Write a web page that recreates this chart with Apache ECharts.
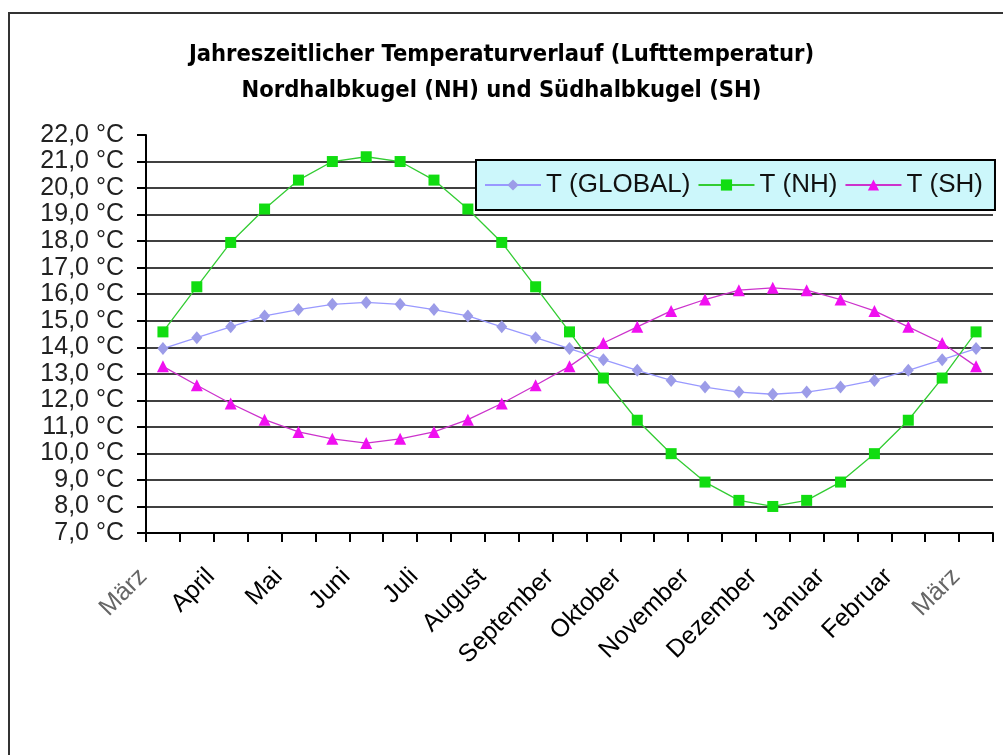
<!DOCTYPE html>
<html>
<head>
<meta charset="utf-8">
<title>Temperaturverlauf</title>
<script src="https://cdn.jsdelivr.net/npm/echarts@6.0.0/dist/echarts.min.js"></script>
<style>
	html, body { margin: 0; padding: 0; background: #fff; }
	#main { width: 1003px; height: 755px; }
</style>
</head>
<body>
<div id="main"></div>
<script>
	// Monatsnamen, nur jede zweite Kategorie beschriftet
	const monthLabels = ['März', 'April', 'Mai', 'Juni', 'Juli', 'August', 'September', 'Oktober', 'November', 'Dezember', 'Januar', 'Februar', 'März'];

	const seriesNames = ['T (GLOBAL)', 'T (NH)', 'T (SH)'];

	const tGlobal = [13.95, 14.36, 14.77, 15.18, 15.42, 15.62, 15.69, 15.62, 15.42, 15.18, 14.77, 14.36, 13.95,
		13.53, 13.13, 12.75, 12.50, 12.31, 12.23, 12.31, 12.50, 12.75, 13.13, 13.53, 13.95];
	const tNH = [14.58, 16.28, 17.95, 19.21, 20.30, 21.00, 21.18, 21.00, 20.30, 19.21, 17.95, 16.28, 14.58,
		12.84, 11.25, 9.99, 8.92, 8.23, 8.00, 8.23, 8.92, 9.99, 11.25, 12.84, 14.58];
	const tSH = [13.28, 12.57, 11.88, 11.27, 10.81, 10.55, 10.39, 10.55, 10.81, 11.27, 11.88, 12.57, 13.28,
		14.16, 14.77, 15.37, 15.80, 16.15, 16.24, 16.15, 15.80, 15.37, 14.77, 14.16, 13.28];

	const yMin = 7, yMax = 22, yStep = 1;

	let categories = [];
	monthLabels.forEach((m, i) => {
		categories.push(m);
		if (i < monthLabels.length - 1) categories.push('');
	});

	let myChart = echarts.init(document.getElementById('main'));
	let font = '"Liberation Sans", Arial, sans-serif';

	let option = {
		backgroundColor: '#fff',
		animation: false,
		title: {
			text: 'Jahreszeitlicher Temperaturverlauf (Lufttemperatur)\nNordhalbkugel (NH) und Südhalbkugel (SH)',
			left: 'center',
			top: 32,
			textStyle: {
				fontFamily: '"Liberation Sans Narrow", "DejaVu Sans Condensed", sans-serif',
				fontWeight: 'bold',
				fontSize: 23.5,
				lineHeight: 36,
				color: '#000'
			}
		},
		graphic: [{
			type: 'rect',
			z: -1,
			shape: { x: 9, y: 13, width: 1100, height: 900 },
			style: { fill: 'none', stroke: '#333', lineWidth: 2 }
		}],
		legend: {
			data: seriesNames,
			left: 476,
			top: 160,
			orient: 'horizontal',
			backgroundColor: '#ccf7fb',
			borderColor: '#000',
			borderWidth: 2,
			padding: [12, 12, 12, 8],
			itemGap: 7,
			itemWidth: 56,
			itemHeight: 14,
			textStyle: { fontFamily: font, fontSize: 26, color: '#111' }
		},
		grid: {
			left: 146,
			right: 10,
			top: 135,
			bottom: 222,
			containLabel: false,
			outerBoundsMode: 'none'
		},
		xAxis: {
			type: 'category',
			data: categories,
			boundaryGap: true,
			axisLine: { show: true, lineStyle: { color: '#000', width: 2 } },
			axisTick: { show: true, interval: 0, length: 9, lineStyle: { color: '#000', width: 2 } },
			axisLabel: {
				interval: 0,
				rotate: 45,
				margin: 20,
				padding: [0, 28, 0, 0],
				fontFamily: font,
				fontSize: 25,
				color: function (value) {
					return value === 'März' ? '#666' : '#000';
				}
			},
			splitLine: { show: false }
		},
		yAxis: {
			type: 'value',
			min: yMin,
			max: yMax,
			interval: yStep,
			axisLine: { show: true, lineStyle: { color: '#000', width: 2 } },
			axisTick: { show: true, length: 9, lineStyle: { color: '#000', width: 2 } },
			axisLabel: {
				margin: 22,
				fontFamily: font,
				fontSize: 25,
				color: '#222',
				formatter: function (v) {
					return v.toFixed(1).replace('.', ',') + ' °C';
				}
			},
			splitLine: {
				show: true,
				showMaxLine: false,
				lineStyle: { color: '#000', width: 1.6 }
			}
		},
		series: [{
			name: seriesNames[0],
			type: 'line',
			data: tGlobal,
			symbol: 'diamond',
			symbolSize: [11, 13],
			lineStyle: { color: '#9999ff', width: 1.3 },
			itemStyle: { color: '#9c9ce8' },
			z: 3
		}, {
			name: seriesNames[1],
			type: 'line',
			data: tNH,
			symbol: 'rect',
			symbolSize: 11,
			lineStyle: { color: '#33cc33', width: 1.3 },
			itemStyle: { color: '#11dd11' },
			z: 4
		}, {
			name: seriesNames[2],
			type: 'line',
			data: tSH,
			symbol: 'triangle',
			symbolSize: 12,
			lineStyle: { color: '#cc33cc', width: 1.3 },
			itemStyle: { color: '#f010f0' },
			z: 5
		}]
	};

	myChart.setOption(option);
</script>
</body>
</html>
